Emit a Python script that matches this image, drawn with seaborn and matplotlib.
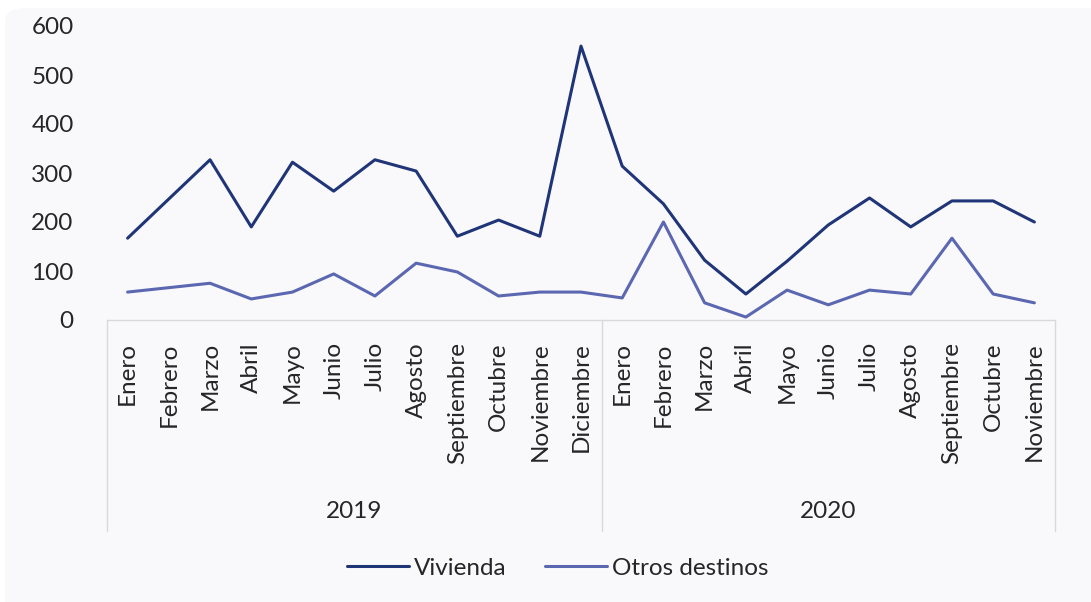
import seaborn as sns
import matplotlib.pyplot as plt
import pandas as pd
from matplotlib.patches import FancyBboxPatch
from matplotlib.transforms import blended_transform_factory

# data
meses = ["Enero", "Febrero", "Marzo", "Abril", "Mayo", "Junio", "Julio",
         "Agosto", "Septiembre", "Octubre", "Noviembre", "Diciembre",
         "Enero", "Febrero", "Marzo", "Abril", "Mayo", "Junio", "Julio",
         "Agosto", "Septiembre", "Octubre", "Noviembre"]
anios = ["2019", "2020"]
meses_por_anio = [12, 11]
vivienda = [167, 247, 327, 190, 322, 263, 327, 304, 171, 204, 171, 559,
            314, 237, 122, 53, 120, 194, 249, 190, 243, 243, 200]
otros = [57, 66, 75, 43, 57, 94, 49, 116, 98, 49, 57, 57,
         45, 200, 35, 6, 61, 31, 61, 53, 167, 53, 35]

sns.set_theme(style="white")
plt.rcParams['font.family'] = ['Lato', 'DejaVu Sans']

df = pd.DataFrame({
    "pos": list(range(len(meses))) * 2,
    "valor": vivienda + otros,
    "serie": ["Vivienda"] * len(meses) + ["Otros destinos"] * len(meses),
})

fig = plt.figure(figsize=(10.91, 6.02), dpi=100)
fig.patch.set_facecolor("white")
bg = FancyBboxPatch((5 / 1091, -0.05), 1.2, 1 - 8 / 602 + 0.05,
                    boxstyle="round,pad=0,rounding_size=0.02",
                    transform=fig.transFigure, facecolor="#f9f9fc",
                    edgecolor="none", zorder=-10)
fig.add_artist(bg)

ax = fig.add_axes([107 / 1091, 1 - 320 / 602, (1055 - 107) / 1091, (320 - 26) / 602])
ax.set_facecolor("none")

sns.lineplot(data=df, x="pos", y="valor", hue="serie", ax=ax,
             palette={"Vivienda": "#1f3577", "Otros destinos": "#5b67b0"},
             linewidth=2.2, legend=True)

ax.set_xlim(-0.5, len(meses) - 0.5)
ax.set_ylim(0, 600)
ax.set_yticks(range(0, 601, 100))
ax.set_xticks(range(len(meses)))
ax.set_xticklabels(meses, rotation=90, va="top", fontsize=17.5, color="#262626")
ax.tick_params(axis="y", labelsize=17.5, labelcolor="#262626", length=0, pad=24)
ax.tick_params(axis="x", length=0, pad=16)
ax.set_xlabel("")
ax.set_ylabel("")
for s in ["top", "right", "left"]:
    ax.spines[s].set_visible(False)
ax.spines["bottom"].set_color("#d9d9d9")
ax.spines["bottom"].set_linewidth(1)

# group separators and year labels
tr = blended_transform_factory(ax.transData, fig.transFigure)
y_top = 1 - 320 / 602
y_bot = 1 - 531 / 602
bordes = [-0.5]
for n in meses_por_anio:
    bordes.append(bordes[-1] + n)
for b in bordes:
    ax.plot([b, b], [y_top, y_bot], transform=tr, color="#d9d9d9",
            linewidth=1, clip_on=False)
for i, anio in enumerate(anios):
    centro = (bordes[i] + bordes[i + 1]) / 2
    ax.text(centro, 1 - 512 / 602, anio, transform=tr, ha="center",
            va="center", fontsize=17.5, color="#262626")

handles, labels = ax.get_legend_handles_labels()
ax.legend(handles, labels, loc="center", bbox_to_anchor=(0.511, 1 - 568 / 602),
          bbox_transform=fig.transFigure, ncol=2, frameon=False, fontsize=17.5,
          handlelength=2.55, columnspacing=1.6, handletextpad=0.2,
          labelcolor="#262626")

fig.savefig("out.png", dpi=100)
